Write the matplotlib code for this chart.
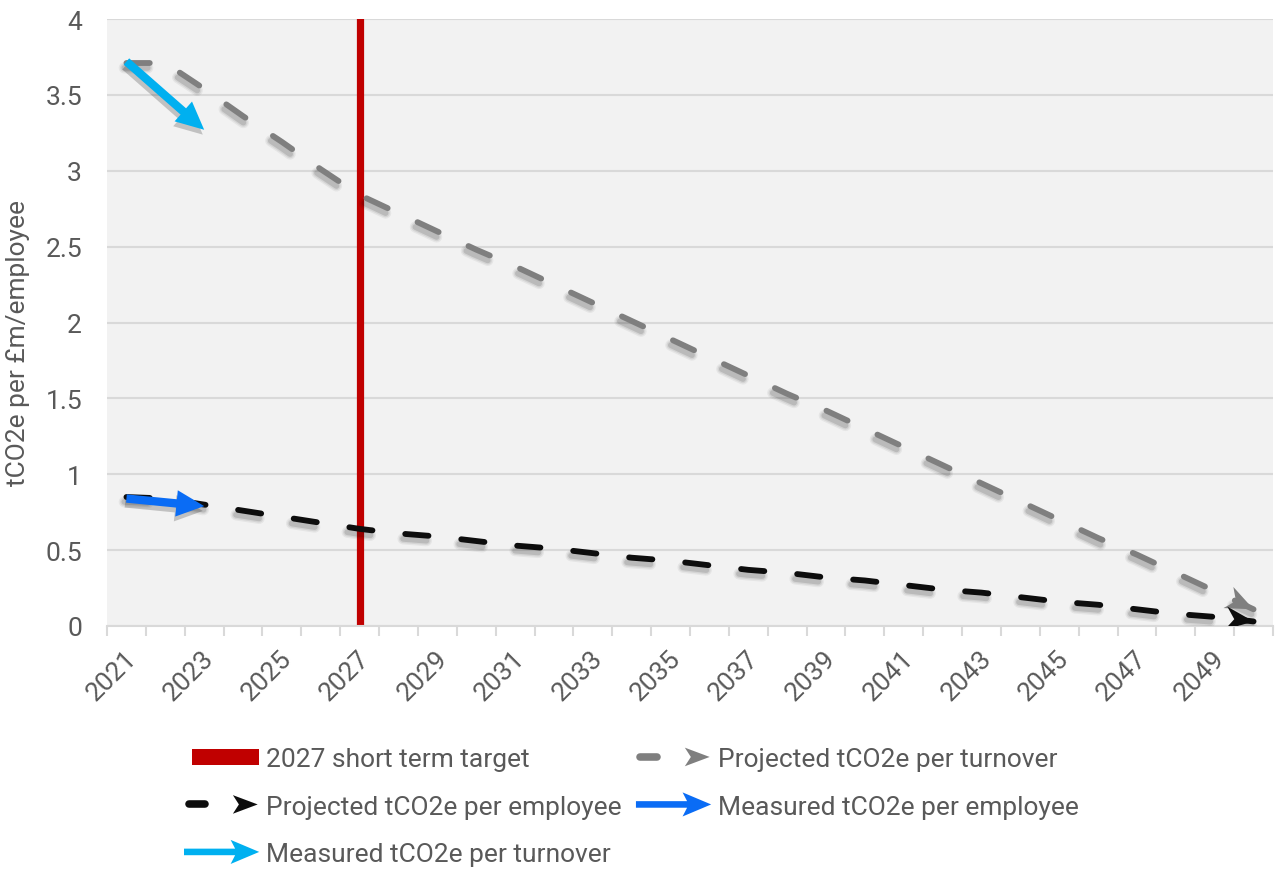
import matplotlib
matplotlib.use("Agg")
import matplotlib.pyplot as plt
import matplotlib.patheffects as pe
import matplotlib.transforms as mtransforms
from matplotlib.legend_handler import HandlerBase
from matplotlib.lines import Line2D
from matplotlib.markers import MarkerStyle
from matplotlib.patches import Polygon, Patch, Rectangle
from matplotlib.path import Path
import numpy as np

plt.rcParams["font.family"] = ["Roboto", "DejaVu Sans"]

# ---- data -------------------------------------------------------------
years = list(range(2021, 2051))
proj_turnover = [3.71, 3.71, 3.54, 3.36, 3.19, 3.01, 2.84, 2.72, 2.60, 2.48,
                 2.37, 2.25, 2.13, 2.01, 1.89, 1.77, 1.65, 1.53, 1.42, 1.30,
                 1.18, 1.06, 0.94, 0.82, 0.70, 0.58, 0.47, 0.35, 0.23, 0.11]
proj_employee = [0.85, 0.84, 0.80, 0.76, 0.72, 0.68, 0.64, 0.61, 0.59, 0.56,
                 0.53, 0.51, 0.48, 0.45, 0.43, 0.40, 0.37, 0.35, 0.32, 0.30,
                 0.27, 0.24, 0.22, 0.19, 0.16, 0.14, 0.11, 0.08, 0.06, 0.03]
measured_years = [2021, 2023]
meas_turnover = [3.72, 3.27]
meas_employee = [0.84, 0.79]
target_year = 2027
y_ticks = [0, 0.5, 1, 1.5, 2, 2.5, 3, 3.5, 4]
x_label_years = years[::2]

labels = {
    "target": "2027 short term target",
    "proj_turn": "Projected tCO2e per turnover",
    "proj_emp": "Projected tCO2e per employee",
    "meas_emp": "Measured tCO2e per employee",
    "meas_turn": "Measured tCO2e per turnover",
}
y_title = "tCO2e per £m/employee"

# ---- styling ----------------------------------------------------------
TEXT = "#595959"
GRID = "#d9d9d9"
RED = "#c00000"
GREY = "#7f7f7f"
BLACK = "#0d0d0d"
BLUE = "#0a6cf5"
LIGHT_BLUE = "#00b0f0"
FS = 19
LW = 4.2

# stealth-style arrow head with its tip at the origin, pointing along +x
STEALTH = Path([(0, 0), (-1.0, 0.42), (-0.7, 0), (-1.0, -0.42), (0, 0)],
               [Path.MOVETO, Path.LINETO, Path.LINETO, Path.LINETO, Path.CLOSEPOLY])


def line_shadow(lw, offset=(-1.5, -3.5)):
    layers = [(4.0, 0.05), (2.0, 0.07), (0.0, 0.12)]
    return [pe.SimpleLineShadow(offset=offset, shadow_color="k", alpha=a,
                                linewidth=lw + extra) for extra, a in layers] + [pe.Normal()]


def patch_shadow(offset=(-1.0, -3.5)):
    return [pe.SimplePatchShadow(offset=offset, shadow_rgbFace="k", alpha=0.2),
            pe.Normal()]


fig = plt.figure(figsize=(12.76, 8.70), dpi=100, facecolor="white")
ax = fig.add_axes([107 / 1276, 1 - 627 / 870, 1166 / 1276, 607 / 870])
ax.set_facecolor("#f2f2f2")
ax.set_xlim(-0.5, len(years) - 0.5)
ax.set_ylim(0, 4)

pos = {y: i for i, y in enumerate(years)}
x = np.arange(len(years))

# vertical target marker
ax.axvline(pos[target_year], color=RED, lw=5.2, zorder=2)

# projected series: dashed lines finished with an arrow head
for vals, col in ((proj_turnover, GREY), (proj_employee, BLACK)):
    ax.plot(x, vals, color=col, lw=LW, dashes=(4.0, 5.65), dash_capstyle="round",
            solid_capstyle="round", zorder=3, path_effects=line_shadow(LW))
    p0 = ax.transData.transform((x[-2], vals[-2]))
    p1 = ax.transData.transform((x[-1], vals[-1]))
    ang = np.degrees(np.arctan2(p1[1] - p0[1], p1[0] - p0[0]))
    head = MarkerStyle(STEALTH, transform=mtransforms.Affine2D().rotate_deg(ang))
    ax.plot([x[-1]], [vals[-1]], linestyle="none", marker=head, markersize=40,
            color=col, markeredgewidth=0, zorder=4,
            path_effects=[pe.SimpleLineShadow(offset=(-1.5, -3.5), alpha=0.12),
                          pe.Normal()])

# measured series: solid arrows
for vals, col in ((meas_turnover, LIGHT_BLUE), (meas_employee, BLUE)):
    xs = [pos[y] for y in measured_years]
    arr = ax.annotate("", xy=(xs[-1], vals[-1]), xytext=(xs[0], vals[0]),
                      arrowprops=dict(arrowstyle="simple,head_length=1.0,head_width=0.95,tail_width=0.3",
                                      color=col, lw=0, shrinkA=0, shrinkB=0,
                                      mutation_scale=20),
                      zorder=5)
    arr.arrow_patch.set_path_effects(patch_shadow())

# axes
ax.set_yticks(y_ticks, labels=[f"{v:g}" for v in y_ticks])
ax.grid(axis="y", color=GRID, lw=1.5, zorder=0)
ax.set_axisbelow(True)
ax.tick_params(axis="y", length=0, pad=18, labelsize=FS, labelcolor=TEXT)

ax.set_xticks(np.arange(-0.5, len(years), 1))
ax.set_xticklabels([])
ax.set_xticks([pos[y] for y in x_label_years], labels=[str(y) for y in x_label_years],
              minor=True)
ax.tick_params(axis="x", which="major", length=7, width=1.5, color=GRID)
ax.tick_params(axis="x", which="minor", length=0, pad=20, labelsize=FS, labelcolor=TEXT)
shift = mtransforms.ScaledTranslation(6 / 100, 0, fig.dpi_scale_trans)
for t in ax.get_xticklabels(minor=True):
    t.set_rotation(45)
    t.set_ha("right")
    t.set_va("center")
    t.set_rotation_mode("anchor")
    t.set_transform(t.get_transform() + shift)

for s in ("left", "right", "top"):
    ax.spines[s].set_visible(False)
ax.spines["bottom"].set_color(GRID)
ax.spines["bottom"].set_linewidth(1.5)

fig.text(18 / 1276, 1 - 343 / 870, y_title, rotation=90, ha="center", va="center",
         fontsize=FS, color=TEXT)


# ---- legend -----------------------------------------------------------
class ProjectedHandler(HandlerBase):
    def create_artists(self, legend, orig_handle, xdescent, ydescent, width,
                       height, fontsize, trans):
        col = orig_handle.get_color()
        y = height / 2 - ydescent
        x0 = -xdescent
        dash = Line2D([x0 + 0.06 * width, x0 + 0.28 * width], [y, y], color=col,
                      lw=LW * 1.3, solid_capstyle="round", transform=trans)
        h = height * 0.85
        head = Polygon([[x0 + 0.98 * width, y],
                        [x0 + 0.65 * width, y + h / 2],
                        [x0 + 0.73 * width, y],
                        [x0 + 0.65 * width, y - h / 2]],
                       closed=True, facecolor=col, edgecolor="none", transform=trans)
        return [dash, head]


class ArrowHandler(HandlerBase):
    def create_artists(self, legend, orig_handle, xdescent, ydescent, width,
                       height, fontsize, trans):
        col = orig_handle.get_color()
        y = height / 2 - ydescent
        x0 = -xdescent
        t = height * 0.15
        h = height * 0.55
        pts = [[x0, y + t], [x0 + 0.68 * width, y + t], [x0 + 0.62 * width, y + h],
               [x0 + width, y], [x0 + 0.62 * width, y - h], [x0 + 0.68 * width, y - t],
               [x0, y - t]]
        poly = Polygon(pts, closed=True, facecolor=col, edgecolor="none",
                       transform=trans)
        return [poly]


class RectHandler(HandlerBase):
    def create_artists(self, legend, orig_handle, xdescent, ydescent, width,
                       height, fontsize, trans):
        hh = height * 0.75
        y = height / 2 - ydescent
        r = Rectangle((-xdescent + 0.1 * width, y - hh / 2), 0.9 * width, hh,
                      facecolor=orig_handle.get_facecolor(), edgecolor="none",
                      transform=trans)
        return [r]


h_target = Patch(color=RED)
h_proj_turn = Line2D([], [], color=GREY)
h_proj_emp = Line2D([], [], color=BLACK)
h_meas_emp = Line2D([], [], color=BLUE)
h_meas_turn = Line2D([], [], color=LIGHT_BLUE)

handles = [h_target, h_proj_emp, h_meas_turn, h_proj_turn, h_meas_emp]
texts = [labels["target"], labels["proj_emp"], labels["meas_turn"],
         labels["proj_turn"], labels["meas_emp"]]
handler_map = {
    h_target: RectHandler(),
    h_proj_turn: ProjectedHandler(),
    h_proj_emp: ProjectedHandler(),
    h_meas_emp: ArrowHandler(),
    h_meas_turn: ArrowHandler(),
}

fig.legend(handles, texts, handler_map=handler_map, ncol=2, frameon=False,
           loc="upper left", bbox_to_anchor=(184 / 1276, 1 - 747 / 870),
           fontsize=FS, labelcolor=TEXT, handlelength=2.85, handleheight=0.9,
           handletextpad=0.25, columnspacing=0.55, labelspacing=0.85, borderpad=0,
           borderaxespad=0)

fig.savefig("out.png", dpi=100, facecolor="white")
